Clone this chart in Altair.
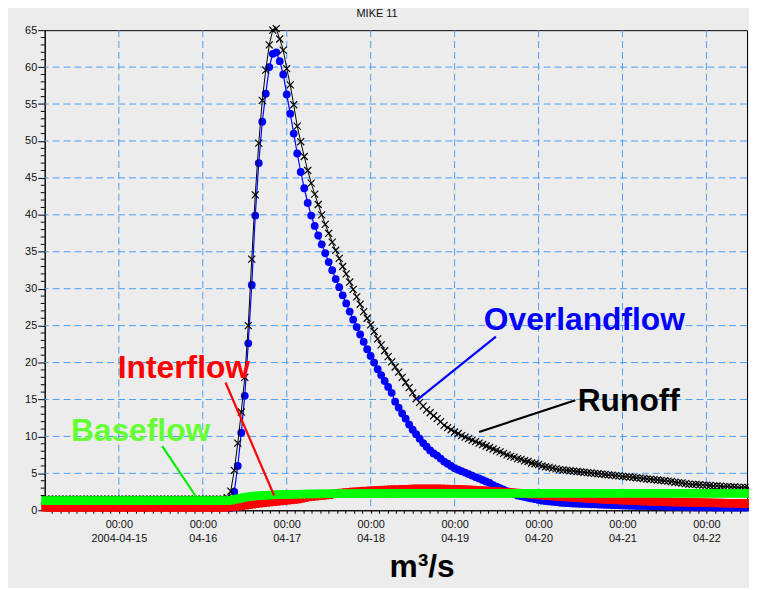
import altair as alt
import pandas as pd

# ---------------- data (hourly values, hours counted from 2004-04-14 00:00) ----------------
runoff_start = 3
runoff = [
    1.5, 1.5, 1.5, 1.5, 1.5, 1.5, 1.5, 1.5, 1.5, 1.5, 1.5, 1.5, 1.5,
    1.5, 1.5, 1.5, 1.5, 1.5, 1.5, 1.5, 1.5, 1.5, 1.5, 1.5, 1.5, 1.5,
    1.5, 1.5, 1.5, 1.5, 1.5, 1.5, 1.5, 1.5, 1.5, 1.5, 1.5, 1.5, 1.5,
    1.5, 1.5, 1.5, 1.5, 1.5, 1.5, 1.5, 1.5, 1.5, 1.5, 1.5, 1.5, 1.5,
    1.7, 2.6, 5.4, 9.1, 13.3, 18.0, 25.0, 34.0, 42.7, 49.7,
    55.5, 59.6, 63.0, 65.0, 65.2, 63.8, 62.3, 59.8, 57.6, 54.9,
    52.0, 49.9, 47.9, 46.0, 44.3, 42.8, 41.4, 40.0, 38.7, 37.5,
    36.3, 35.2, 34.1, 33.0, 32.0, 30.9, 29.9, 28.9, 27.9, 26.9,
    26.0, 25.1, 24.2, 23.2, 22.4, 21.6, 20.8, 20.1, 19.4, 18.7,
    18.0, 17.3, 16.6, 15.9, 15.1, 14.6, 14.1, 13.6, 13.2, 12.8,
    12.4, 12.0, 11.5, 11.2, 10.9, 10.6, 10.4, 10.1, 9.9, 9.7,
    9.5, 9.3, 9.1, 8.9, 8.7, 8.5, 8.3, 8.1, 7.9, 7.7,
    7.5, 7.3, 7.2, 7.0, 6.9, 6.7, 6.6, 6.4, 6.3, 6.2,
    6.0, 5.9, 5.8, 5.7, 5.6, 5.5, 5.45, 5.4, 5.35, 5.3,
    5.25, 5.2, 5.15, 5.1, 5.05, 5.0, 4.95, 4.9, 4.85, 4.8,
    4.75, 4.7, 4.65, 4.6, 4.55, 4.5, 4.45, 4.4, 4.35, 4.3,
    4.25, 4.2, 4.15, 4.1, 4.05, 4.0, 3.95, 3.9, 3.8, 3.75,
    3.7, 3.6, 3.55, 3.5, 3.5, 3.45, 3.4, 3.4, 3.35, 3.3,
    3.3, 3.25, 3.2, 3.2, 3.15, 3.15, 3.1, 3.1, 3.1, 3.05,
]

overland_start = 56
overland = [
    0.3, 2.5, 6.0, 10.5, 15.5, 22.6, 30.5, 39.9, 47.0, 52.6,
    56.4, 60.0, 61.8, 62.0, 60.8, 59.0, 56.3, 53.7, 51.0, 48.3,
    45.8, 43.6, 41.6, 39.9, 38.5, 37.2, 36.0, 34.8, 33.6, 32.5,
    31.3, 30.2, 29.1, 28.0, 26.9, 25.8, 24.8, 23.8, 22.8, 21.8,
    20.9, 20.0, 19.1, 18.3, 17.5, 16.7, 15.9, 14.7, 13.9, 13.1,
    12.4, 11.6, 10.9, 10.3, 9.7, 9.1, 8.6, 8.1, 7.7, 7.4,
    7.0, 6.6, 6.3, 6.0, 5.7, 5.5, 5.3, 5.1, 4.9, 4.7,
    4.5, 4.3, 4.1, 3.9, 3.7, 3.4, 3.2, 3.0, 2.8, 2.6,
    2.4, 2.2, 2.0, 1.9, 1.8, 1.7, 1.6, 1.5, 1.4, 1.3,
    1.25, 1.2, 1.15, 1.1, 1.05, 1.0, 0.98, 0.95, 0.92, 0.9,
    0.88, 0.86, 0.84, 0.82, 0.8, 0.78, 0.76, 0.74, 0.72, 0.7,
    0.68, 0.66, 0.64, 0.62, 0.6, 0.59, 0.58, 0.57, 0.56, 0.55,
    0.54, 0.53, 0.52, 0.51, 0.5, 0.49, 0.48, 0.47, 0.46, 0.45,
    0.44, 0.43, 0.42, 0.41, 0.4, 0.4, 0.39, 0.39, 0.38, 0.38,
    0.37, 0.37, 0.37, 0.36, 0.36, 0.36, 0.35, 0.35, 0.35,
]

interflow_start = 3
interflow = [
    0.4, 0.4, 0.4, 0.4, 0.4, 0.4, 0.4, 0.4, 0.4, 0.4, 0.4, 0.4, 0.4,
    0.4, 0.4, 0.4, 0.4, 0.4, 0.4, 0.4, 0.4, 0.4, 0.4, 0.4, 0.4, 0.4,
    0.4, 0.4, 0.4, 0.4, 0.4, 0.4, 0.4, 0.4, 0.4, 0.4, 0.4, 0.4, 0.4,
    0.4, 0.4, 0.4, 0.4, 0.4, 0.4, 0.4, 0.4, 0.4, 0.4, 0.4, 0.4, 0.4,
    0.4, 0.45, 0.5, 0.55, 0.6, 0.68, 0.75, 0.82, 0.9, 0.95,
    1.0, 1.05, 1.1, 1.15, 1.2, 1.25, 1.3, 1.35, 1.4, 1.45,
    1.5, 1.6, 1.7, 1.8, 1.85, 1.9, 1.95, 2.0, 2.05, 2.1,
    2.2, 2.25, 2.3, 2.35, 2.4, 2.45, 2.5, 2.5, 2.55, 2.6,
    2.6, 2.65, 2.65, 2.7, 2.7, 2.75, 2.75, 2.8, 2.8, 2.8,
    2.85, 2.85, 2.85, 2.9, 2.9, 2.9, 2.9, 2.9, 2.9, 2.9,
    2.9, 2.9, 2.88, 2.87, 2.86, 2.85, 2.83, 2.81, 2.79, 2.77,
    2.75, 2.72, 2.69, 2.66, 2.63, 2.6, 2.57, 2.54, 2.51, 2.48,
    2.45, 2.41, 2.37, 2.33, 2.29, 2.25, 2.21, 2.17, 2.13, 2.09,
    2.05, 2.01, 1.97, 1.93, 1.9, 1.87, 1.84, 1.8, 1.77, 1.74,
    1.71, 1.68, 1.65, 1.62, 1.59, 1.56, 1.53, 1.5, 1.47, 1.45,
    1.43, 1.41, 1.39, 1.37, 1.35, 1.33, 1.31, 1.29, 1.27, 1.25,
    1.23, 1.21, 1.19, 1.17, 1.15, 1.14, 1.13, 1.12, 1.11, 1.1,
    1.09, 1.08, 1.07, 1.06, 1.05, 1.04, 1.03, 1.02, 1.01, 1.0,
    0.99, 0.98, 0.97, 0.96, 0.95, 0.94, 0.93, 0.92, 0.91, 0.9,
]

baseflow_start = 3
baseflow = [
    1.3, 1.3, 1.3, 1.3, 1.3, 1.3, 1.3, 1.3, 1.3, 1.3, 1.3, 1.3, 1.3,
    1.3, 1.3, 1.3, 1.3, 1.3, 1.3, 1.3, 1.3, 1.3, 1.3, 1.3, 1.3, 1.3,
    1.3, 1.3, 1.3, 1.3, 1.3, 1.3, 1.3, 1.3, 1.3, 1.3, 1.3, 1.3, 1.3,
    1.3, 1.3, 1.3, 1.3, 1.3, 1.3, 1.3, 1.3, 1.3, 1.3, 1.3, 1.3, 1.3,
    1.3, 1.35, 1.45, 1.55, 1.65, 1.75, 1.82, 1.88, 1.93, 1.97,
    2.0, 2.03, 2.06, 2.08, 2.1, 2.12, 2.14, 2.15, 2.16, 2.17,
    2.18, 2.19, 2.2, 2.2, 2.21, 2.21, 2.22, 2.22, 2.23, 2.23,
    2.24, 2.24, 2.25, 2.25, 2.25, 2.26, 2.26, 2.26, 2.27, 2.27,
    2.27, 2.28, 2.28, 2.28, 2.28, 2.29, 2.29, 2.29, 2.29, 2.3,
    2.3, 2.3, 2.3, 2.3, 2.3, 2.3, 2.3, 2.3, 2.3, 2.3,
    2.3, 2.3, 2.3, 2.3, 2.3, 2.3, 2.3, 2.3, 2.3, 2.3,
    2.3, 2.3, 2.3, 2.3, 2.3, 2.3, 2.3, 2.3, 2.3, 2.3,
    2.3, 2.3, 2.3, 2.3, 2.3, 2.3, 2.3, 2.3, 2.3, 2.3,
    2.3, 2.3, 2.3, 2.3, 2.3, 2.3, 2.3, 2.3, 2.3, 2.3,
    2.3, 2.3, 2.3, 2.3, 2.3, 2.3, 2.3, 2.3, 2.3, 2.3,
    2.3, 2.3, 2.3, 2.3, 2.3, 2.3, 2.3, 2.3, 2.3, 2.3,
    2.3, 2.3, 2.3, 2.3, 2.3, 2.3, 2.3, 2.3, 2.3, 2.3,
    2.3, 2.3, 2.3, 2.3, 2.3, 2.3, 2.3, 2.3, 2.3, 2.3,
    2.3, 2.3, 2.3, 2.3, 2.3, 2.3, 2.3, 2.3, 2.3, 2.3,
]

# annotations (label, hour, value, color)
ann_labels = ["Overlandflow", "Runoff", "Interflow", "Baseflow"]
ann_t = [157.1, 169.8, 42.6, 30.2]
ann_v = [25.8, 14.8, 19.3, 10.7]
ann_colors = ["#0000ff", "#000000", "#ff0000", "#66ff33"]
# pointer lines
ptr_t1 = [131.8, 154.5, 54.5, 36.4]
ptr_v1 = [23.5, 14.9, 17.3, 8.7]
ptr_t2 = [109.2, 127.0, 68.4, 46.0]
ptr_v2 = [14.9, 10.6, 2.0, 1.9]
ptr_colors = ["#0000ff", "#000000", "#ff0000", "#00ee00"]

day_hours = [24, 48, 72, 96, 120, 144, 168, 192]
y_grid = [5, 10, 15, 20, 25, 30, 35, 40, 45, 50, 55, 60]
y_major = [0, 5, 10, 15, 20, 25, 30, 35, 40, 45, 50, 55, 60, 65]
y_minor = [v for v in range(1, 65) if v % 5 != 0]
x_ticks = [round(2.4 * k, 1) for k in range(2, 85)]

# ---------------- frames ----------------
def series_df(start, vals):
    return pd.DataFrame({"t": [start + i for i in range(len(vals))], "v": vals})

df_run = series_df(runoff_start, runoff)
df_ovl = series_df(overland_start, overland)
df_int = series_df(interflow_start, interflow)
df_bas = series_df(baseflow_start, baseflow)
df_ann = pd.DataFrame({"label": ann_labels, "t": ann_t, "v": ann_v, "c": ann_colors})
df_ptr = pd.DataFrame({"t": ptr_t1, "v": ptr_v1, "t2": ptr_t2, "v2": ptr_v2, "c": ptr_colors})
df_xgrid = pd.DataFrame({"t": day_hours})
df_ygrid = pd.DataFrame({"v": y_grid})
df_yminor = pd.DataFrame({"v": y_minor})

FONT = "Liberation Sans"
xs = alt.Scale(domain=[2.8, 203.6], nice=False, zero=False)
ys = alt.Scale(domain=[0, 65], nice=False, zero=True)

label_expr = (
    "abs(datum.value/24 - round(datum.value/24)) < 0.001 ? "
    "(round(datum.value/24) == 1 ? ['00:00', '2004-04-15'] : "
    "['00:00', '04-' + (14 + round(datum.value/24))]) : ''"
)
xaxis = alt.Axis(
    values=x_ticks, labelExpr=label_expr, grid=False, tickSize=3, tickColor="black",
    domainColor="black", labelFont=FONT, labelFontSize=11, labelColor="#111111",
    labelPadding=5, labelLineHeight=14, labelOverlap=False, labelFlush=False,
    title="m³/s", titleFont=FONT, titleFontSize=32, titleFontWeight="bold",
    titleColor="black", titleX=380, titleY=67, titleBaseline="alphabetic",
    titleAlign="center",
)
yaxis = alt.Axis(
    values=y_major, grid=False, tickSize=7, tickColor="black", domainColor="black",
    labelFont=FONT, labelFontSize=11, labelColor="#111111", labelPadding=1,
    title=None,
)

def X(f="t"):
    return alt.X(f, type="quantitative", scale=xs, axis=xaxis)

def Y(f="v"):
    return alt.Y(f, type="quantitative", scale=ys, axis=yaxis)

GRID = "#4a9ef5"
xgrid = alt.Chart(df_xgrid).mark_rule(color=GRID, strokeDash=[7, 4], strokeWidth=1).encode(x=X())
ygrid = alt.Chart(df_ygrid).mark_rule(color=GRID, strokeDash=[7, 4], strokeWidth=1).encode(y=Y())
yminor = alt.Chart(df_yminor).mark_rule(color="black", strokeWidth=1).encode(
    y=Y(), x=alt.value(0), x2=alt.value(-4)
)

XSHAPE = "M-1,-1L1,1M-1,1L1,-1"
ovl_line = alt.Chart(df_ovl).mark_line(color="#0000ff", strokeWidth=1.2).encode(x=X(), y=Y())
ovl_pts = alt.Chart(df_ovl).mark_point(
    shape="circle", filled=True, color="#0000ff", size=62, opacity=1
).encode(x=X(), y=Y())
run_line = alt.Chart(df_run).mark_line(color="black", strokeWidth=1).encode(x=X(), y=Y())
run_pts = alt.Chart(df_run).mark_point(
    shape=XSHAPE, filled=False, color="black", size=50, strokeWidth=1.2, opacity=1
).encode(x=X(), y=Y())
int_line = alt.Chart(df_int).mark_line(color="#ff0000", strokeWidth=1).encode(x=X(), y=Y())
int_pts = alt.Chart(df_int).mark_point(
    shape="square", filled=True, color="#ff0000", size=72, opacity=1
).encode(x=X(), y=Y())
bas_line = alt.Chart(df_bas).mark_line(color="#00ff00", strokeWidth=1).encode(x=X(), y=Y())
bas_pts = alt.Chart(df_bas).mark_point(
    shape="square", filled=True, color="#00ff00", size=72, opacity=1
).encode(x=X(), y=Y())

ptrs = alt.Chart(df_ptr).mark_rule(strokeWidth=2.2).encode(
    x=X(), y=Y(), x2="t2", y2="v2", color=alt.Color("c:N", scale=None)
)
texts = alt.Chart(df_ann).mark_text(
    font=FONT, fontSize=32, fontWeight="bold", align="center", baseline="middle"
).encode(x=X(), y=Y(), text="label:N", color=alt.Color("c:N", scale=None))

chart = alt.layer(
    xgrid, ygrid, yminor,
    ovl_line, ovl_pts, run_line, run_pts,
    int_line, int_pts, bas_line, bas_pts,
    ptrs, texts,
).properties(
    width=708,
    height=484,
    autosize=alt.AutoSizeParams(type="none"),
    padding={"left": 37, "top": 20, "right": 2, "bottom": 76},
    title=alt.TitleParams("MIKE 11", font=FONT, fontSize=11, fontWeight="normal",
                          color="#111111", dx=-19, offset=4),
    background="#ececec",
).configure_view(stroke="black", strokeWidth=1)

chart.save("out.html", embed_options={"renderer": "svg", "actions": False})
